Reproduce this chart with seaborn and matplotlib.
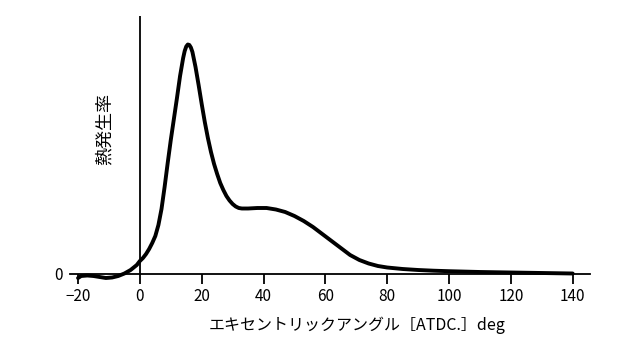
import matplotlib
matplotlib.use("Agg")
import matplotlib.pyplot as plt
import seaborn as sns
import pandas as pd

sns.set_theme(style="white")
plt.rcParams['font.family'] = ['Noto Sans CJK JP', 'DejaVu Sans']

angle_deg = [-20, -19, -17, -15, -13, -11, -9, -7, -5, -3, -1, 0, 1, 2, 3, 4, 5, 6, 7, 8, 9,
             10, 11, 12, 13, 14, 14.5, 15, 15.5, 16, 16.5, 17, 18, 19, 20, 21, 22, 23, 24,
             25, 26, 27, 28, 29, 30, 31, 32, 33, 35, 38, 41, 44, 47, 50, 53, 56, 59, 62,
             65, 68, 71, 74, 77, 80, 85, 90, 95, 100, 110, 120, 130, 140]
heat_release = [-4, -2, -1.5, -2, -3, -4, -3.5, -2, 0.5, 4, 9, 13, 16, 20, 25, 31, 38, 49,
                65, 87, 111, 134, 155, 176, 198, 216, 223, 227.5, 229.5, 229, 226.5, 222,
                207, 189, 170, 152, 136, 122, 110, 100, 91, 84, 78, 73.5, 70, 67.5, 66,
                65.5, 65.5, 66, 66, 64.5, 62, 58, 53, 47, 40, 33, 26, 19, 14, 10.5, 8,
                6.5, 5, 4, 3.3, 2.8, 2, 1.5, 1, 0.5]
x_ticks = [-20, 0, 20, 40, 60, 80, 100, 120, 140]
y_label = "熱発生率"
x_label = "エキセントリックアングル［ATDC.］deg"

df = pd.DataFrame({"angle": angle_deg, "q": heat_release})

fig = plt.figure(figsize=(6.4, 3.48), dpi=100)
ax_bottom_px = 283
ax_top_px = 16
ax = fig.add_axes([70 / 640, (348 - ax_bottom_px) / 348, 520 / 640, (ax_bottom_px - ax_top_px) / 348])

sns.lineplot(data=df, x="angle", y="q", ax=ax, color="black", linewidth=2.8, sort=False)
for line in ax.lines:
    line.set_solid_joinstyle("round")
    line.set_solid_capstyle("round")

ylo, yhi = -(ax_bottom_px - 274), 258
ax.set_xlim(-22.6, 145.6)
ax.set_ylim(ylo, yhi)

for s in ["top", "right", "left"]:
    ax.spines[s].set_visible(False)
ax.spines["bottom"].set_position(("data", 0))
ax.spines["bottom"].set_color("black")
ax.spines["bottom"].set_linewidth(1.3)

ax.axvline(0, ymin=(0 - ylo) / (yhi - ylo), ymax=1, color="black", linewidth=1.3)

ax.set_xticks(x_ticks)
ax.set_xticklabels([str(t).replace("-", "−") for t in x_ticks])
ax.tick_params(axis="x", direction="out", length=7, width=1.3, color="black",
               labelsize=11, pad=3, bottom=True, labelcolor="black")
ax.set_yticks([0])
ax.set_yticklabels(["0"])
ax.tick_params(axis="y", length=0, pad=5, labelsize=11, labelcolor="black", left=True)

ax.set_xlabel("")
ax.set_ylabel("")
ax.grid(False)

fig.text(105 / 640, 1 - 129 / 348, y_label, rotation=90, ha="center", va="center",
         fontsize=13, color="black")
fig.text(357 / 640, 1 - 325 / 348, x_label, ha="center", va="center",
         fontsize=11.5, color="black")

fig.savefig("out.png", dpi=100, facecolor="white")
